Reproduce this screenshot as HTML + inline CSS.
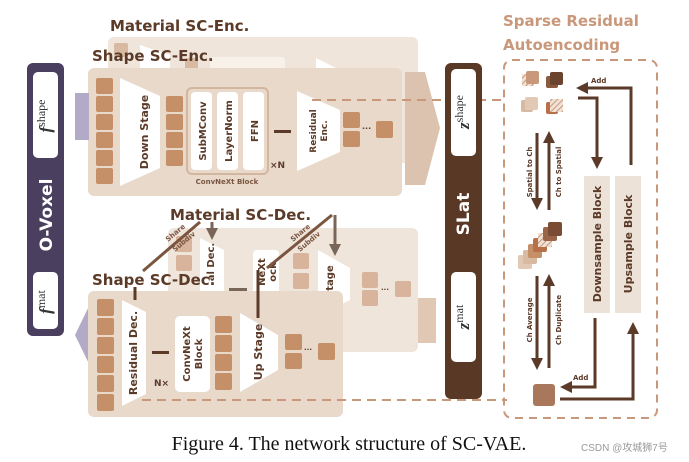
<!DOCTYPE html>
<html><head><meta charset="utf-8"><style>
html,body{margin:0;padding:0;background:#fff;width:689px;height:462px;overflow:hidden}
svg{display:block}
.s{font-family:"DejaVu Sans","Liberation Sans",sans-serif;font-weight:bold}
</style></head><body>
<svg width="689" height="462" viewBox="0 0 689 462" xmlns="http://www.w3.org/2000/svg">
<defs>
<marker id="ah" markerWidth="4" markerHeight="4" refX="2" refY="2" orient="auto" markerUnits="strokeWidth"><path d="M0,0 L4,2 L0,4 Z" fill="#5b3a28"/></marker>
<marker id="ag" markerWidth="4" markerHeight="4" refX="2" refY="2" orient="auto" markerUnits="strokeWidth"><path d="M0,0 L4,2 L0,4 Z" fill="#7a6658"/></marker>
<pattern id="hatch" width="4" height="4" patternUnits="userSpaceOnUse" patternTransform="rotate(45)"><rect width="4" height="4" fill="#f1e2d6"/><line x1="0" y1="0" x2="0" y2="4" stroke="#c9977a" stroke-width="2"/></pattern>
</defs>

<!-- Material SC-Enc back -->
<text x="110" y="31" class="s" font-size="15" fill="#5b3a28">Material SC-Enc.</text>
<rect x="108" y="37" width="310" height="126" rx="6" fill="#efe5db"/>
<rect x="114" y="43" width="14" height="14" rx="2" fill="#d8b9a1"/>
<path d="M140,45 L170,55 L170,70 L140,70 Z" fill="#fff"/>
<rect x="185" y="58" width="13" height="12" rx="2" fill="#d8b9a1"/>
<rect x="210" y="57" width="75" height="14" rx="3" fill="#f7f1ea"/>
<path d="M316,58 L336,68 L316,70 Z" fill="#fff"/>
<!-- big right arrow -->
<path d="M405,72 L425,72 L440,128 L425,185 L405,185 Z" fill="#dcc3b0"/>
<!-- Shape SC-Enc front -->
<text x="92" y="61" class="s" font-size="15" fill="#5b3a28">Shape SC-Enc.</text>
<rect x="88" y="68" width="314" height="128" rx="6" fill="#e8d9cb"/>
<rect x="75" y="93" width="14" height="47" fill="#b2aac6"/>
<g fill="#c58f68">
<rect x="96" y="78" width="17" height="16" rx="2"/><rect x="96" y="96" width="17" height="16" rx="2"/><rect x="96" y="114" width="17" height="16" rx="2"/><rect x="96" y="132" width="17" height="16" rx="2"/><rect x="96" y="150" width="17" height="16" rx="2"/><rect x="96" y="168" width="17" height="16" rx="2"/>
<rect x="166" y="96" width="17" height="16" rx="2"/><rect x="166" y="114" width="17" height="16" rx="2"/><rect x="166" y="132" width="17" height="16" rx="2"/><rect x="166" y="150" width="17" height="16" rx="2"/>
<rect x="343" y="112" width="17" height="16" rx="2"/><rect x="343" y="131" width="17" height="16" rx="2"/><rect x="376" y="121" width="17" height="17" rx="2"/>
</g>
<text x="362" y="131" class="s" font-size="8" fill="#5b3a28">···</text>
<path d="M120,78 L160,96 L160,168 L120,186 Z" fill="#fff"/>
<text transform="translate(144,132) rotate(-90)" text-anchor="middle" class="s" font-size="11" fill="#5b3a28" dy="4">Down Stage</text>
<rect x="187" y="88" width="81" height="86" rx="5" fill="none" stroke="#d4b59d" stroke-width="2"/>
<rect x="191" y="92" width="21" height="78" rx="4" fill="#fff"/>
<rect x="217" y="92" width="21" height="78" rx="4" fill="#fff"/>
<rect x="243" y="92" width="21" height="78" rx="4" fill="#fff"/>
<text transform="translate(202,131) rotate(-90)" text-anchor="middle" class="s" font-size="10" fill="#5b3a28" dy="4">SubMConv</text>
<text transform="translate(228,131) rotate(-90)" text-anchor="middle" class="s" font-size="10" fill="#5b3a28" dy="4">LayerNorm</text>
<text transform="translate(254,131) rotate(-90)" text-anchor="middle" class="s" font-size="10" fill="#5b3a28" dy="4">FFN</text>
<text x="227" y="184" text-anchor="middle" class="s" font-size="7" fill="#7a5540">ConvNeXt Block</text>
<rect x="274" y="130" width="17" height="3" fill="#5b3a28"/>
<text x="270" y="168" class="s" font-size="9" fill="#5b3a28">×N</text>
<path d="M297,91 L340,110 L340,152 L297,171 Z" fill="#fff"/>
<text transform="translate(316,131) rotate(-90)" text-anchor="middle" class="s" font-size="9" fill="#5b3a28">Residual</text>
<text transform="translate(327,131) rotate(-90)" text-anchor="middle" class="s" font-size="9" fill="#5b3a28">Enc.</text>
<line x1="312" y1="100" x2="505" y2="100" stroke="#c9977a" stroke-width="2" stroke-dasharray="9,6"/>

<!-- O-Voxel bar -->
<rect x="27" y="63" width="37" height="273" rx="6" fill="#4a3f5e"/>
<rect x="33" y="72" width="25" height="86" rx="5" fill="#fff"/>
<rect x="33" y="272" width="25" height="57" rx="5" fill="#fff"/>
<text transform="translate(51,116) rotate(-90)" text-anchor="middle" font-family="Liberation Serif,serif" font-size="17" fill="#333"><tspan font-style="italic" font-weight="bold">f</tspan><tspan font-size="12" dy="-6">shape</tspan></text>
<text transform="translate(51,302) rotate(-90)" text-anchor="middle" font-family="Liberation Serif,serif" font-size="17" fill="#333"><tspan font-style="italic" font-weight="bold">f</tspan><tspan font-size="12" dy="-6">mat</tspan></text>
<text transform="translate(46,215) rotate(-90)" text-anchor="middle" class="s" font-size="17" fill="#fff" dy="6">O-Voxel</text>

<!-- Material SC-Dec back -->
<rect x="168" y="228" width="250" height="124" rx="6" fill="#efe5db"/>
<rect x="418" y="298" width="18" height="45" fill="#e0c8b5"/>
<g fill="#d7b49b"><rect x="176" y="236" width="16" height="16" rx="2"/><rect x="176" y="255" width="16" height="16" rx="2"/><rect x="293" y="253" width="16" height="16" rx="2"/><rect x="293" y="273" width="16" height="16" rx="2"/><rect x="362" y="272" width="16" height="16" rx="2"/><rect x="362" y="290" width="16" height="16" rx="2"/><rect x="395" y="281" width="16" height="16" rx="2"/></g>
<text x="381" y="292" class="s" font-size="7" fill="#5b3a28">···</text>
<path d="M200,238 L224,250 L224,300 L200,310 Z" fill="#fff"/>
<text transform="translate(214,262) rotate(-90)" text-anchor="middle" class="s" font-size="10" fill="#5b3a28">al Dec.</text>
<rect x="253" y="250" width="26" height="48" rx="4" fill="#fff"/>
<text transform="translate(265,272) rotate(-90)" text-anchor="middle" class="s" font-size="10" fill="#5b3a28">NeXt</text>
<text transform="translate(276,272) rotate(-90)" text-anchor="middle" class="s" font-size="10" fill="#5b3a28">ock</text>
<path d="M318,250 L350,268 L350,300 L318,316 Z" fill="#fff"/>
<text transform="translate(333,278) rotate(-90)" text-anchor="middle" class="s" font-size="10" fill="#5b3a28">tage</text>
<rect x="229" y="288" width="18" height="3" fill="#7a6658"/>
<text x="170" y="220" class="s" font-size="15" fill="#5b3a28">Material SC-Dec.</text>
<!-- share lines -->
<line x1="212" y1="222" x2="212" y2="234" stroke="#7a6658" stroke-width="3" marker-end="url(#ag)"/>
<line x1="335" y1="215" x2="335" y2="250" stroke="#7a6658" stroke-width="3" marker-end="url(#ag)"/>
<line x1="200" y1="222" x2="143" y2="271" stroke="#7a5540" stroke-width="3"/>
<line x1="332" y1="215" x2="267" y2="268" stroke="#7a5540" stroke-width="3"/>
<text transform="translate(168,242) rotate(-40)" class="s" font-size="7" fill="#7a5540">Share</text>
<text transform="translate(175,252) rotate(-40)" class="s" font-size="7" fill="#7a5540">Subdiv</text>
<text transform="translate(293,242) rotate(-40)" class="s" font-size="7" fill="#7a5540">Share</text>
<text transform="translate(300,252) rotate(-40)" class="s" font-size="7" fill="#7a5540">Subdiv</text>

<!-- Shape SC-Dec front -->
<path d="M92,300 L92,370 L75,335 Z" fill="#b2aac6"/>
<rect x="88" y="291" width="255" height="126" rx="6" fill="#e8d9cb"/>
<g fill="#c58f68">
<rect x="97" y="299" width="17" height="17" rx="2"/><rect x="97" y="318" width="17" height="17" rx="2"/><rect x="97" y="337" width="17" height="17" rx="2"/><rect x="97" y="356" width="17" height="17" rx="2"/><rect x="97" y="375" width="17" height="17" rx="2"/><rect x="97" y="394" width="17" height="17" rx="2"/>
<rect x="215" y="316" width="17" height="17" rx="2"/><rect x="215" y="335" width="17" height="17" rx="2"/><rect x="215" y="354" width="17" height="17" rx="2"/><rect x="215" y="373" width="17" height="17" rx="2"/>
<rect x="285" y="334" width="17" height="16" rx="2"/><rect x="285" y="353" width="17" height="16" rx="2"/><rect x="318" y="343" width="17" height="17" rx="2"/>
</g>
<text x="304" y="352" class="s" font-size="7" fill="#5b3a28">···</text>
<path d="M122,300 L146,312 L146,394 L122,406 Z" fill="#fff"/>
<text transform="translate(137,353) rotate(-90)" text-anchor="middle" class="s" font-size="11" fill="#5b3a28">Residual Dec.</text>
<rect x="152" y="351" width="17" height="3" fill="#5b3a28"/>
<text x="154" y="386" class="s" font-size="9" fill="#5b3a28">N×</text>
<rect x="175" y="316" width="35" height="76" rx="5" fill="#fff"/>
<text transform="translate(190,354) rotate(-90)" text-anchor="middle" class="s" font-size="10" fill="#5b3a28">ConvNeXt</text>
<text transform="translate(202,354) rotate(-90)" text-anchor="middle" class="s" font-size="10" fill="#5b3a28">Block</text>
<path d="M240,313 L278,335 L278,370 L240,392 Z" fill="#fff"/>
<text transform="translate(258,352) rotate(-90)" text-anchor="middle" class="s" font-size="11" fill="#5b3a28" dy="4">Up Stage</text>
<text x="92" y="285" class="s" font-size="15" fill="#5b3a28">Shape SC-Dec.</text>
<line x1="135" y1="287" x2="135" y2="300" stroke="#5b3a28" stroke-width="3"/>
<line x1="258" y1="270" x2="258" y2="318" stroke="#5b3a28" stroke-width="3"/>
<line x1="142" y1="400" x2="507" y2="400" stroke="#c9977a" stroke-width="2" stroke-dasharray="9,6"/>

<!-- SLat bar -->
<rect x="445" y="63" width="37" height="336" rx="6" fill="#5a3826"/>
<rect x="451" y="69" width="25" height="87" rx="5" fill="#fff"/>
<rect x="451" y="272" width="25" height="90" rx="5" fill="#fff"/>
<text transform="translate(469,112) rotate(-90)" text-anchor="middle" font-family="Liberation Serif,serif" font-size="17" fill="#333"><tspan font-style="italic" font-weight="bold">z</tspan><tspan font-size="12" dy="-6">shape</tspan></text>
<text transform="translate(469,317) rotate(-90)" text-anchor="middle" font-family="Liberation Serif,serif" font-size="17" fill="#333"><tspan font-style="italic" font-weight="bold">z</tspan><tspan font-size="12" dy="-6">mat</tspan></text>
<text transform="translate(463,214) rotate(-90)" text-anchor="middle" class="s" font-size="17" fill="#fff" dy="6">SLat</text>

<!-- Sparse Residual -->
<text x="503" y="26" class="s" font-size="15" fill="#c9977a">Sparse Residual</text>
<text x="503" y="50" class="s" font-size="15" fill="#c9977a">Autoencoding</text>
<rect x="504" y="60" width="153" height="358" rx="8" fill="none" stroke="#c9977a" stroke-width="2" stroke-dasharray="8,6"/>
<rect x="522" y="74" width="12" height="12" fill="url(#hatch)"/><rect x="526" y="71" width="13" height="13" rx="2" fill="#c9977a"/>
<rect x="546" y="76" width="12" height="12" rx="2" fill="#8a5a40"/><rect x="550" y="72" width="13" height="13" rx="2" fill="#6b4430"/>
<rect x="521" y="100" width="12" height="12" rx="2" fill="#d8b9a1"/><rect x="525" y="97" width="13" height="13" rx="2" fill="#e2c9b6"/>
<rect x="546" y="102" width="12" height="12" rx="2" fill="#b87048"/><rect x="550" y="99" width="13" height="13" fill="url(#hatch)"/>
<rect x="518" y="255" width="14" height="14" rx="2" fill="#e2c9b6"/>
<rect x="523" y="250" width="14" height="14" rx="2" fill="#d8b9a1"/>
<rect x="528" y="244" width="14" height="14" rx="2" fill="#c58f68"/>
<rect x="533" y="238" width="14" height="14" rx="2" fill="#b87048"/>
<rect x="538" y="233" width="14" height="14" fill="url(#hatch)"/>
<rect x="543" y="227" width="14" height="14" rx="2" fill="#9a6448"/>
<rect x="548" y="222" width="14" height="14" rx="2" fill="#7a4c34"/>
<rect x="533" y="384" width="22" height="22" rx="3" fill="#a9785c"/>
<g stroke="#5b3a28" stroke-width="3" fill="none">
<line x1="537" y1="133" x2="537" y2="204" marker-end="url(#ah)"/>
<line x1="549" y1="210" x2="549" y2="137" marker-end="url(#ah)"/>
<line x1="537" y1="276" x2="537" y2="364" marker-end="url(#ah)"/>
<line x1="549" y1="368" x2="549" y2="280" marker-end="url(#ah)"/>
<polyline points="578,98 597,98 597,163" marker-end="url(#ah)"/>
<polyline points="631,165 631,88 582,88" marker-end="url(#ah)"/>
<polyline points="595,318 595,387 566,387" marker-end="url(#ah)"/>
<polyline points="560,399 633,399 633,328" marker-end="url(#ah)"/>
</g>
<text x="591" y="83" class="s" font-size="7" fill="#5b3a28">Add</text>
<text x="573" y="380" class="s" font-size="7" fill="#5b3a28">Add</text>
<text transform="translate(532,172) rotate(-90)" text-anchor="middle" class="s" font-size="7" fill="#5b3a28">Spatial to Ch</text>
<text transform="translate(561,172) rotate(-90)" text-anchor="middle" class="s" font-size="7" fill="#5b3a28">Ch to Spatial</text>
<text transform="translate(532,320) rotate(-90)" text-anchor="middle" class="s" font-size="7" fill="#5b3a28">Ch Average</text>
<text transform="translate(561,320) rotate(-90)" text-anchor="middle" class="s" font-size="7" fill="#5b3a28">Ch Duplicate</text>
<rect x="584" y="176" width="26" height="137" fill="#ece2d8"/>
<rect x="615" y="176" width="26" height="137" fill="#ece2d8"/>
<text transform="translate(601,244) rotate(-90)" text-anchor="middle" class="s" font-size="11" fill="#5b3a28">Downsample Block</text>
<text transform="translate(632,244) rotate(-90)" text-anchor="middle" class="s" font-size="11" fill="#5b3a28">Upsample Block</text>

<text x="349" y="450" text-anchor="middle" font-family="Liberation Serif,serif" font-size="20" fill="#111">Figure 4. The network structure of SC-VAE.</text>
<text x="581" y="451" font-family="Liberation Sans,Noto Sans CJK SC,sans-serif" font-size="10" fill="#999">CSDN @攻城狮7号</text>
</svg>
</body></html>
